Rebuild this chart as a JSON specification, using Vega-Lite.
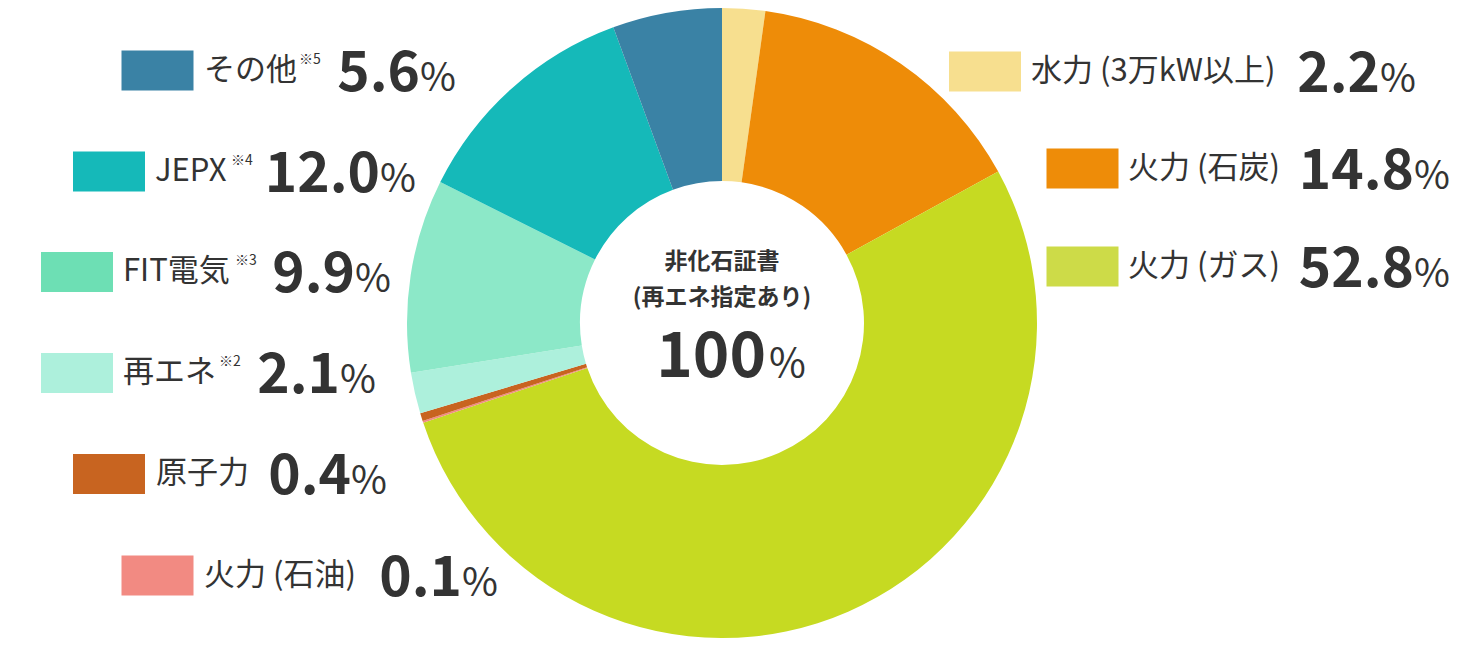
{
  "$schema": "https://vega.github.io/schema/vega-lite/v6.json",
  "width": 1444,
  "height": 646,
  "autosize": {"type": "none"},
  "padding": {"left": 0, "top": 0, "right": 26, "bottom": 4},
  "background": "white",
  "datasets": {
    "mix": [
      {"name": "水力", "label": "水力 (3万kW以上)", "pct": 2.2, "order": 1},
      {"name": "石炭", "label": "火力 (石炭)", "pct": 14.8, "order": 2},
      {"name": "ガス", "label": "火力 (ガス)", "pct": 52.8, "order": 3},
      {"name": "石油", "label": "火力 (石油)", "pct": 0.1, "order": 4},
      {"name": "原子力", "label": "原子力", "pct": 0.4, "order": 5},
      {"name": "再エネ", "label": "再エネ", "note": "※2", "pct": 2.1, "order": 6},
      {"name": "FIT電気", "label": "FIT電気", "note": "※3", "pct": 9.9, "order": 7},
      {"name": "JEPX", "label": "JEPX", "note": "※4", "pct": 12.0, "order": 8},
      {"name": "その他", "label": "その他", "note": "※5", "pct": 5.6, "order": 9}
    ],
    "center": [
      {"title": "非化石証書", "sub": "(再エネ指定あり)", "total": 100}
    ]
  },
  "data": {"name": "mix"},
  "layer": [
    {
      "mark": {"type": "arc", "innerRadius": 142, "outerRadius": 315},
      "encoding": {
        "theta": {"field": "pct", "type": "quantitative", "stack": true},
        "order": {"field": "order", "type": "quantitative", "sort": "ascending"},
        "color": {
          "field": "name",
          "type": "nominal",
          "scale": {
            "domain": ["水力", "石炭", "ガス", "石油", "原子力", "再エネ", "FIT電気", "JEPX", "その他"],
            "range": ["#f7df8f", "#ee8c08", "#c6da22", "#f28a82", "#c86420", "#adf0dc", "#8ce8c8", "#15b9b9", "#3a82a5"]
          },
          "legend": null
        }
      }
    },
    {
      "mark": {"type": "point", "shape": "M-1,-0.5556H1V0.5556H-1Z", "size": 5184, "filled": true, "opacity": 1, "strokeWidth": 0},
      "encoding": {
        "x": {
          "field": "order", "type": "quantitative", "axis": null,
          "scale": {"domain": [1, 2, 3, 4, 5, 6, 7, 8, 9], "range": [985, 1082.5, 1082.5, 157.5, 109, 77, 77, 109, 157.5], "nice": false, "zero": false}
        },
        "y": {
          "field": "order", "type": "quantitative", "axis": null,
          "scale": {"domain": [1, 2, 3, 4, 5, 6, 7, 8, 9], "range": [71.5, 168.5, 266.5, 575.5, 474, 373, 272, 171.5, 70.5], "nice": false, "zero": false}
        },
        "color": {
          "field": "name",
          "type": "nominal",
          "scale": {
            "domain": ["水力", "石炭", "ガス", "石油", "原子力", "再エネ", "FIT電気", "JEPX", "その他"],
            "range": ["#f7df8f", "#ee8c08", "#cddb48", "#f28a82", "#c86420", "#adf0dc", "#6ddfb4", "#15b9b9", "#3a82a5"]
          },
          "legend": null
        }
      }
    },
    {
      "mark": {"type": "text", "align": "left", "baseline": "middle", "fontSize": 31, "font": "Noto Sans CJK JP", "fill": "#333333"},
      "encoding": {
        "x": {
          "field": "order", "type": "quantitative", "axis": null,
          "scale": {"domain": [1, 2, 3, 4, 5, 6, 7, 8, 9], "range": [1031, 1128, 1128, 204, 156, 123, 123, 155, 204], "nice": false, "zero": false}
        },
        "y": {
          "field": "order", "type": "quantitative", "axis": null,
          "scale": {"domain": [1, 2, 3, 4, 5, 6, 7, 8, 9], "range": [71.5, 168.5, 266.5, 575.5, 474, 373, 272, 171.5, 70.5], "nice": false, "zero": false}
        },
        "text": {"field": "label"}
      }
    },
    {
      "transform": [{"filter": "datum.note"}],
      "mark": {"type": "text", "align": "left", "baseline": "middle", "fontSize": 14, "dy": -11, "font": "Noto Sans CJK JP", "fill": "#333333"},
      "encoding": {
        "x": {
          "field": "order", "type": "quantitative", "axis": null,
          "scale": {"domain": [1, 2, 3, 4, 5, 6, 7, 8, 9], "range": [1283, 1283, 1283, 360, 248, 219, 235, 231, 299], "nice": false, "zero": false}
        },
        "y": {
          "field": "order", "type": "quantitative", "axis": null,
          "scale": {"domain": [1, 2, 3, 4, 5, 6, 7, 8, 9], "range": [71.5, 168.5, 266.5, 575.5, 474, 373, 272, 171.5, 70.5], "nice": false, "zero": false}
        },
        "text": {"field": "note"}
      }
    },
    {
      "mark": {"type": "text", "align": "right", "baseline": "alphabetic", "dy": 20, "fontSize": 55, "fontWeight": "bold", "font": "Noto Sans CJK JP", "fill": "#333333"},
      "encoding": {
        "x": {
          "field": "order", "type": "quantitative", "axis": null,
          "scale": {"domain": [1, 2, 3, 4, 5, 6, 7, 8, 9], "range": [1380, 1414, 1414, 462, 351, 340, 355, 380, 420], "nice": false, "zero": false}
        },
        "y": {
          "field": "order", "type": "quantitative", "axis": null,
          "scale": {"domain": [1, 2, 3, 4, 5, 6, 7, 8, 9], "range": [71.5, 168.5, 266.5, 575.5, 474, 373, 272, 171.5, 70.5], "nice": false, "zero": false}
        },
        "text": {"field": "pct", "type": "quantitative", "format": ".1f"}
      }
    },
    {
      "mark": {"type": "text", "align": "left", "baseline": "alphabetic", "dy": 20, "fontSize": 39, "text": "%", "font": "Noto Sans CJK JP", "fill": "#333333"},
      "encoding": {
        "x": {
          "field": "order", "type": "quantitative", "axis": null,
          "scale": {"domain": [1, 2, 3, 4, 5, 6, 7, 8, 9], "range": [1380, 1414, 1414, 462, 351, 340, 355, 380, 420], "nice": false, "zero": false}
        },
        "y": {
          "field": "order", "type": "quantitative", "axis": null,
          "scale": {"domain": [1, 2, 3, 4, 5, 6, 7, 8, 9], "range": [71.5, 168.5, 266.5, 575.5, 474, 373, 272, 171.5, 70.5], "nice": false, "zero": false}
        }
      }
    },
    {
      "data": {"name": "center"},
      "mark": {"type": "text", "align": "center", "baseline": "middle", "dy": -61, "fontSize": 23, "fontWeight": "bold", "font": "Noto Sans CJK JP", "fill": "#333333"},
      "encoding": {"text": {"field": "title"}}
    },
    {
      "data": {"name": "center"},
      "mark": {"type": "text", "align": "center", "baseline": "middle", "dy": -25, "fontSize": 23, "fontWeight": "bold", "font": "Noto Sans CJK JP", "fill": "#333333"},
      "encoding": {"text": {"field": "sub"}}
    },
    {
      "data": {"name": "center"},
      "mark": {"type": "text", "align": "right", "baseline": "alphabetic", "dx": 44, "dy": 54, "fontSize": 62, "fontWeight": "bold", "font": "Noto Sans CJK JP", "fill": "#333333"},
      "encoding": {"text": {"field": "total", "type": "quantitative"}}
    },
    {
      "data": {"name": "center"},
      "mark": {"type": "text", "align": "left", "baseline": "alphabetic", "dx": 47, "dy": 54, "fontSize": 40, "text": "%", "font": "Noto Sans CJK JP", "fill": "#333333"},
      "encoding": {}
    }
  ],
  "resolve": {"scale": {"x": "independent", "color": "independent"}},
  "config": {"view": {"stroke": null}}
}
